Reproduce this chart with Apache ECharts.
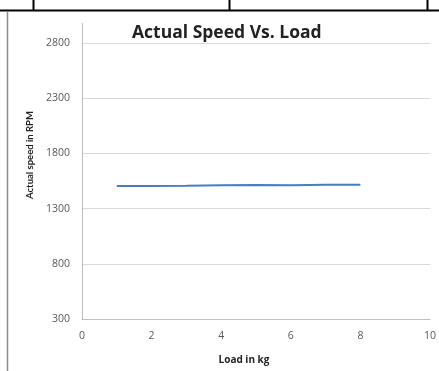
<!DOCTYPE html>
<html>
<head>
<meta charset="utf-8">
<style>
  html, body { margin: 0; padding: 0; background: #fff; }
  #chart { width: 439px; height: 371px; }
</style>
<script src="https://cdn.jsdelivr.net/npm/echarts@6/dist/echarts.min.js"></script>
</head>
<body>
<div id="chart"></div>
<script>
// Load applied (kg) and measured shaft speed (RPM)
const loadKg = [1, 2, 3, 4, 5, 6, 7, 8];
const speedRpm = [1505, 1505, 1506, 1512, 1514, 1512, 1515, 1516];

const xTicks = { min: 0, max: 10, interval: 2 };
const yTicks = { min: 300, max: 2800, interval: 500 };

const titleText = 'Actual Speed Vs. Load';
const xName = 'Load in kg';
const yName = 'Actual speed in RPM';

const font = '"Open Sans", Lato, sans-serif';
const chart = echarts.init(document.getElementById('chart'), null, { renderer: 'canvas' });

chart.setOption({
  animation: false,
  backgroundColor: '#ffffff',
  title: {
    text: titleText,
    left: 127,
    top: 19,
    textStyle: { fontFamily: font, fontSize: 17.5, fontWeight: 'bold', color: '#222' }
  },
  grid: { left: 82, right: 7, top: 43, bottom: 52 },
  xAxis: {
    type: 'value',
    min: xTicks.min, max: xTicks.max, interval: xTicks.interval,
    name: xName,
    nameLocation: 'middle',
    nameGap: 36,
    nameTextStyle: { fontFamily: font, fontSize: 10, fontWeight: 'bold', color: '#222', padding: [0, 24, 0, 0] },
    axisLine: { show: true, lineStyle: { color: '#bfbfbf', width: 1 } },
    axisTick: { show: false },
    splitLine: { show: false },
    axisLabel: { margin: 12, fontFamily: font, fontSize: 10.5, color: '#595959' }
  },
  yAxis: {
    type: 'value',
    min: yTicks.min, max: yTicks.max, interval: yTicks.interval,
    name: yName,
    nameLocation: 'middle',
    nameGap: 47,
    nameTextStyle: { fontFamily: 'Lato, sans-serif', fontSize: 9.5, fontWeight: 'bold', color: '#222', padding: [0, 0, 0, 52] },
    axisLine: { show: true, lineStyle: { color: '#bfbfbf', width: 1 } },
    axisTick: { show: false },
    splitLine: { show: true, lineStyle: { color: '#d9d9d9', width: 1 } },
    axisLabel: { margin: 12, fontFamily: font, fontSize: 10.5, color: '#595959', formatter: v => String(v) }
  },
  graphic: [
    // table frame around the chart
    { type: 'line', shape: { x1: 0, y1: 10.5, x2: 439, y2: 10.5 }, style: { stroke: '#000', lineWidth: 2 } },
    { type: 'line', shape: { x1: 33.5, y1: 0, x2: 33.5, y2: 10 }, style: { stroke: '#000', lineWidth: 2 } },
    { type: 'line', shape: { x1: 229.5, y1: 0, x2: 229.5, y2: 10 }, style: { stroke: '#000', lineWidth: 2 } },
    { type: 'line', shape: { x1: 427.5, y1: 0, x2: 427.5, y2: 10 }, style: { stroke: '#000', lineWidth: 2 } },
    { type: 'line', shape: { x1: 7.5, y1: 11, x2: 7.5, y2: 371 }, style: { stroke: '#8c8c8c', lineWidth: 1.5 } },
    // value axis line continues above the top gridline
    { type: 'line', shape: { x1: 82.5, y1: 23, x2: 82.5, y2: 43 }, style: { stroke: '#bfbfbf', lineWidth: 1 } }
  ],
  series: [{
    type: 'line',
    data: loadKg.map((x, i) => [x, speedRpm[i]]),
    showSymbol: false,
    symbol: 'none',
    lineStyle: { color: '#4a7ebb', width: 2 }
  }]
});
</script>
</body>
</html>
